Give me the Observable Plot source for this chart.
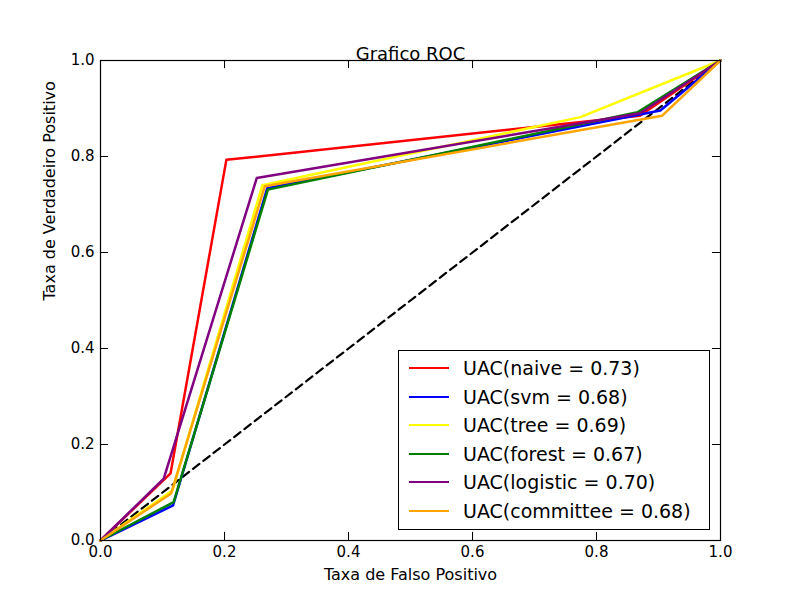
<!DOCTYPE html>
<html><head><meta charset="utf-8">
<script src="https://cdn.jsdelivr.net/npm/d3@7"></script>
<script src="https://cdn.jsdelivr.net/npm/@observablehq/plot@0.6"></script>
<style>body{margin:0;background:#fff;font-family:"DejaVu Sans",sans-serif}
#wrap{position:relative;width:800px;height:600px}
#legend{position:absolute;left:398px;top:350px;width:312px;height:180px;border:1px solid #000;background:#fff;font-size:19px;box-sizing:border-box;padding-top:3px}
.row{display:flex;align-items:center;height:28.5px}
.sw{width:40px;height:0;border-top:2.5px solid;margin:0 14px 0 10px}
</style></head><body><div id="wrap"></div>
<script>
const names = ["UAC(naive = 0.73)","UAC(svm = 0.68)","UAC(tree = 0.69)","UAC(forest = 0.67)","UAC(logistic = 0.70)","UAC(committee = 0.68)"];
const colors = ["red","blue","yellow","green","purple","orange"];
const fprs = [
  [0,0.113,0.203,0.87,1],
  [0,0.117,0.269,0.903,1],
  [0,0.116,0.261,0.774,1],
  [0,0.118,0.27,0.866,1],
  [0,0.102,0.252,0.87,1],
  [0,0.114,0.265,0.906,1]
];
const tprs = [
  [0,0.14,0.793,0.885,1],
  [0,0.073,0.734,0.896,1],
  [0,0.104,0.74,0.882,1],
  [0,0.08,0.731,0.892,1],
  [0,0.129,0.755,0.89,1],
  [0,0.098,0.738,0.885,1]
];
const ticks = [0,0.2,0.4,0.6,0.8,1.0];
const data = names.flatMap((n,i)=>fprs[i].map((x,j)=>({name:n,x,y:tprs[i][j]})));
const marks = [
  Plot.line([{x:0,y:0},{x:1,y:1}],{x:"x",y:"y",stroke:"black",strokeWidth:2.2,strokeDasharray:"8,5"}),
  ...names.map((n,i)=>Plot.line(data.filter(d=>d.name===n),{x:"x",y:"y",stroke:colors[i],strokeWidth:2.5})),
  Plot.ruleX(ticks,{x:d=>d,y1:0,y2:0.017,stroke:"black"}),
  Plot.ruleX(ticks,{x:d=>d,y1:0.983,y2:1,stroke:"black"}),
  Plot.ruleY(ticks,{y:d=>d,x1:0,x2:0.013,stroke:"black"}),
  Plot.ruleY(ticks,{y:d=>d,x1:0.987,x2:1,stroke:"black"}),
  Plot.frame({stroke:"black",strokeWidth:1.2}),
  Plot.axisX(ticks,{tickSize:0,tickFormat:d3.format(".1f"),fontSize:15,tickPadding:6,label:null}),
  Plot.axisY(ticks,{tickSize:0,tickFormat:d3.format(".1f"),fontSize:15,tickPadding:6,label:null}),
  Plot.text(["Taxa de Falso Positivo"],{frameAnchor:"bottom",dy:39,fontSize:16,text:d=>d}),
  Plot.text(["Taxa de Verdadeiro Positivo"],{frameAnchor:"left",dx:-51,rotate:-90,fontSize:16,text:d=>d}),
  Plot.text(["Grafico ROC"],{frameAnchor:"top",dy:-13,fontSize:18,text:d=>d})
];
const chart = Plot.plot({width:800,height:600,marginLeft:100,marginRight:80,marginTop:60,marginBottom:60,
  x:{domain:[0,1]},y:{domain:[0,1]},style:{fontFamily:"DejaVu Sans",fontSize:"15px",color:"black"},marks});
const wrap=document.getElementById("wrap");
wrap.appendChild(chart);
const lg=document.createElement("div");lg.id="legend";
names.forEach((n,i)=>{const r=document.createElement("div");r.className="row";
 r.innerHTML=`<span class="sw" style="border-color:${colors[i]}"></span><span>${n}</span>`;lg.appendChild(r);});
wrap.appendChild(lg);
</script></body></html>
